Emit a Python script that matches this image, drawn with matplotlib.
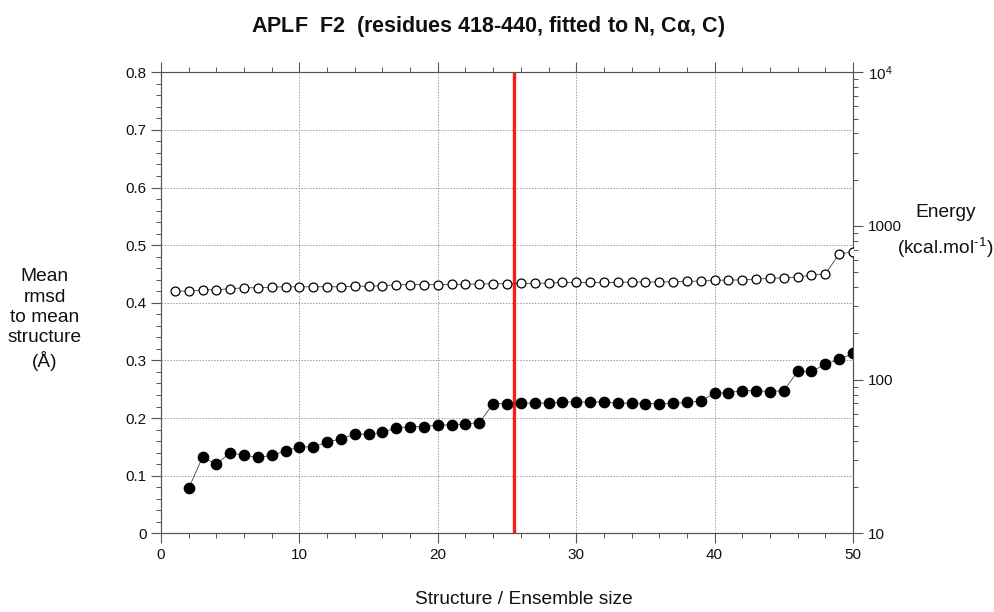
import matplotlib

matplotlib.use("Agg")

import matplotlib.pyplot as plt
import numpy as np
from matplotlib.ticker import FixedLocator, MultipleLocator, NullFormatter

plt.rcParams["font.family"] = ["Liberation Sans", "DejaVu Sans"]
plt.rcParams["mathtext.fontset"] = "custom"
plt.rcParams["mathtext.rm"] = "Liberation Sans"
plt.rcParams["mathtext.it"] = "Liberation Sans:italic"
plt.rcParams["mathtext.bf"] = "Liberation Sans:bold"

# Structures 1..50 (rmsd starts at structure 2)
structure = np.arange(1, 51)
rmsd_x = np.arange(2, 51)
rmsd = [
    0.078, 0.132, 0.120, 0.140, 0.135, 0.132, 0.135, 0.143, 0.150, 0.150,
    0.158, 0.164, 0.172, 0.172, 0.175, 0.183, 0.185, 0.185, 0.188, 0.188,
    0.190, 0.192, 0.225, 0.225, 0.226, 0.226, 0.226, 0.228, 0.228, 0.228,
    0.228, 0.2255, 0.226, 0.225, 0.225, 0.2255, 0.227, 0.2295, 0.243, 0.244,
    0.2475, 0.2475, 0.246, 0.2475, 0.281, 0.281, 0.293, 0.302, 0.312,
]
energy = [
    375, 378, 383, 385, 390, 396, 396, 400, 402, 402,
    402, 402, 402, 405, 406, 408, 415, 415, 415, 415,
    417, 417, 419, 421, 421, 423, 423, 425, 429, 429,
    429, 429, 429, 432, 432, 432, 434, 436, 438, 442,
    445, 445, 451, 456, 460, 465, 479, 486, 659, 676,
]
cutoff = 25.5

INK = "#111111"
SPINE = "#555555"
GRID = "#9a9a9a"

fig = plt.figure(figsize=(9.95, 6.12), dpi=100)
ax = fig.add_axes([0.1618, 0.1286, 0.6955, 0.7533])
ax2 = ax.twinx()

ax.set_xlim(0, 50)
ax.set_ylim(0, 0.8)
ax.xaxis.set_major_locator(MultipleLocator(10))
ax.xaxis.set_minor_locator(MultipleLocator(2))
ax.yaxis.set_minor_locator(MultipleLocator(0.02))
ax.set_yticks(np.arange(0, 0.81, 0.1))
ax.set_yticklabels(["0"] + [f"{v:.1f}" for v in np.arange(0.1, 0.81, 0.1)])
ax.grid(True, which="major", color=GRID, linestyle=(0, (1.5, 1.5)), linewidth=0.7)
ax.set_axisbelow(True)
ax.tick_params(axis="both", which="major", direction="out", length=7, width=0.8,
               color=SPINE, labelsize=11, labelcolor=INK, top=True, labeltop=False)
ax.tick_params(axis="both", which="minor", direction="out", length=3.5, width=0.7,
               color=SPINE, top=True)
ax.tick_params(axis="y", which="both", right=False)
for s in ax.spines.values():
    s.set_color(SPINE)
    s.set_linewidth(0.8)

ax2.set_yscale("log")
ax2.set_ylim(10, 1e4)
ax2.yaxis.set_major_locator(FixedLocator([10, 100, 1000, 1e4]))
ax2.set_yticklabels(["10", "100", "1000", r"$10^4$"])
ax2.yaxis.set_minor_locator(FixedLocator(
    [m * 10 ** d for d in range(1, 4) for m in range(2, 10)]))
ax2.yaxis.set_minor_formatter(NullFormatter())
ax2.tick_params(axis="y", which="major", direction="out", length=7, width=0.8,
                color=SPINE, labelsize=11, labelcolor=INK)
ax2.tick_params(axis="y", which="minor", direction="out", length=3.5, width=0.7,
                color=SPINE)
for s in ax2.spines.values():
    s.set_color(SPINE)
    s.set_linewidth(0.8)

# rmsd (filled) on the left axis, energy (open) on the log axis
ax.plot(rmsd_x, rmsd, color="#444444", linewidth=0.6, marker="o", markersize=7.4,
        markerfacecolor="black", markeredgecolor="black", zorder=3)
ax2.plot(structure, energy, color="#444444", linewidth=0.6, marker="o", markersize=6.4,
         markerfacecolor="white", markeredgecolor="black", markeredgewidth=0.9, zorder=3)
ax.axvline(cutoff, color="#ff1a1a", linewidth=2.4, zorder=2)

fig.text(0.49, 0.956, r"APLF  F2  (residues 418-440, fitted to N, C$\mathbf{\alpha}$, C)",
         ha="center", va="center", fontsize=15.5, fontweight="bold", color=INK)
fig.text(0.045, 0.478, "Mean\nrmsd\nto mean\nstructure\n(Å)", ha="center", va="center",
         fontsize=13.8, color=INK, linespacing=1.26)
fig.text(0.95, 0.653, "Energy", ha="center", va="center", fontsize=13.8, color=INK)
fig.text(0.95, 0.595, r"(kcal.mol$^{\text{-1}}$)", ha="center", va="center",
         fontsize=13.8, color=INK)
fig.text(0.527, 0.021, "Structure / Ensemble size", ha="center", va="center",
         fontsize=13.8, color=INK)

fig.savefig("out.png", dpi=100, facecolor="white")
plt.close(fig)
